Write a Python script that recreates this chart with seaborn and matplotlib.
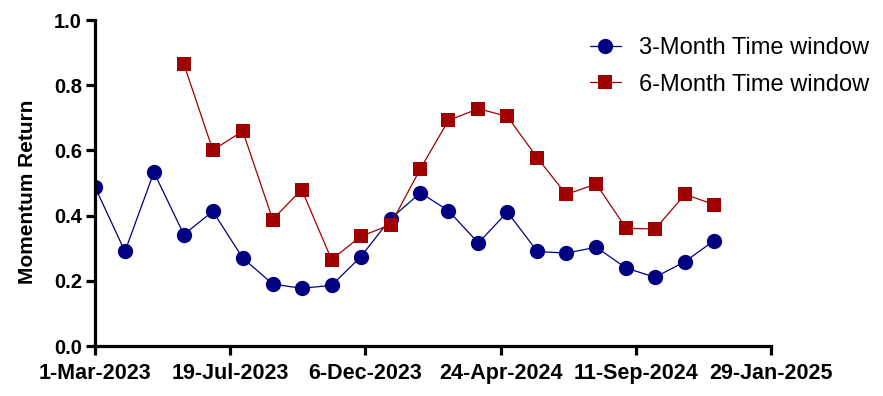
import matplotlib
matplotlib.use("Agg")
import matplotlib.pyplot as plt
import seaborn as sns
import pandas as pd
import numpy as np

sns.set_theme(style="white")
plt.rcParams['font.family'] = ['Liberation Sans', 'DejaVu Sans']
plt.rcParams['text.color'] = 'black'
plt.rcParams['axes.labelcolor'] = 'black'
plt.rcParams['xtick.color'] = 'black'
plt.rcParams['ytick.color'] = 'black'

dates_3m = pd.date_range("2023-03-01", "2024-12-01", freq="MS")
ret_3m = [0.488, 0.290, 0.533, 0.342, 0.413, 0.270, 0.190, 0.177, 0.186, 0.273,
          0.390, 0.470, 0.415, 0.316, 0.411, 0.290, 0.285, 0.303, 0.239, 0.211,
          0.259, 0.323]
dates_6m = pd.date_range("2023-06-01", "2024-12-01", freq="MS")
ret_6m = [0.865, 0.601, 0.659, 0.388, 0.480, 0.265, 0.336, 0.372, 0.544, 0.692,
          0.728, 0.704, 0.577, 0.465, 0.497, 0.361, 0.359, 0.465, 0.434]

tick_dates = ["2023-03-01", "2023-07-19", "2023-12-06", "2024-04-24", "2024-09-11", "2025-01-29"]
tick_labels = ["1-Mar-2023", "19-Jul-2023", "6-Dec-2023", "24-Apr-2024", "11-Sep-2024", "29-Jan-2025"]
y_ticks = [0.0, 0.2, 0.4, 0.6, 0.8, 1.0]

df3 = pd.DataFrame({"date": dates_3m, "ret": ret_3m})
df6 = pd.DataFrame({"date": dates_6m, "ret": ret_6m})

fig = plt.figure(figsize=(8.83, 3.96), dpi=100)
ax = fig.add_axes([95/883, 50/396, (771-95)/883, (346-20)/396])

blue = "#000080"
red = "#A00000"
sns.lineplot(data=df3, x="date", y="ret", ax=ax, color=blue, lw=0.9,
             marker="o", markersize=11, markeredgewidth=0, label="3-Month Time window")
sns.lineplot(data=df6, x="date", y="ret", ax=ax, color=red, lw=0.9,
             marker="s", markersize=10.5, markeredgewidth=0, label="6-Month Time window")

td = pd.to_datetime(tick_dates)
ax.set_xlim(td[0], td[-1])
ax.set_xticks(td)
ax.set_xticklabels(tick_labels, fontsize=15.5, fontweight="bold")
ax.set_ylim(0, 1.0)
ax.set_yticks(y_ticks)
ax.set_yticklabels([f"{v:.1f}" for v in y_ticks], fontsize=14.5, fontweight="bold")
ax.set_xlabel("")
ax.set_ylabel("Momentum Return", fontsize=15, fontweight="bold")
ax.yaxis.set_label_coords(-0.086, 0.472)

for s in ["top", "right"]:
    ax.spines[s].set_visible(False)
for s in ["left", "bottom"]:
    ax.spines[s].set_linewidth(2.3)
    ax.spines[s].set_color("black")
ax.tick_params(axis="both", direction="out", length=6.5, width=2.3, color="black",
               left=True, bottom=True)
ax.tick_params(axis="x", pad=6)
ax.tick_params(axis="y", pad=3)
ax.patch.set_alpha(0)
for sp in ax.spines.values():
    sp.set_clip_on(False)

leg = ax.legend(loc="upper left", bbox_to_anchor=(0.732, 0.948), frameon=False,
                fontsize=17, handlelength=1.3, labelspacing=0.62, handletextpad=0.8,
                borderpad=0, borderaxespad=0)

fig.savefig("out.png", dpi=100)
